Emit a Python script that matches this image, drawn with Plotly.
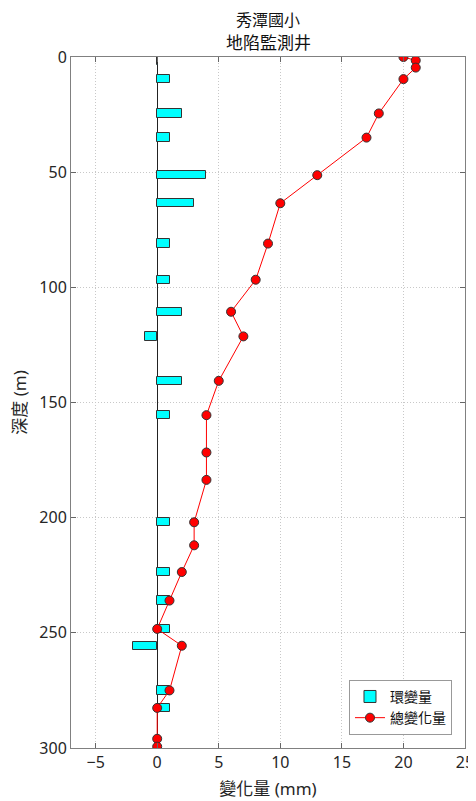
import plotly.graph_objects as go

# Data
depths = [0, 1.5, 4.6, 9.6, 24.5, 35, 51.3, 63.5, 81, 96.7, 110.6, 121.3, 140.6,
          155.5, 171.7, 183.6, 202, 212, 223.6, 236, 248.3, 255.6, 275, 282.6, 296, 299.4]
total_change = [20, 21, 21, 20, 18, 17, 13, 10, 9, 8, 6, 7, 5,
                4, 4, 4, 3, 3, 2, 1, 0, 2, 1, 0, 0, 0]
bar_depths = [1.5, 9.6, 24.5, 35, 51.3, 63.5, 81, 96.7, 110.6, 121.3, 140.6,
              155.5, 202, 223.6, 236, 248.3, 255.6, 275, 282.6]
ring_change = [0.1, 1, 2, 1, 4, 3, 1, 1, 2, -1, 2,
               1, 1, 1, 1, 1, -2, 1, 1]
x_ticks = [-5, 0, 5, 10, 15, 20, 25]
y_ticks = [0, 50, 100, 150, 200, 250, 300]
title_lines = ["秀潭國小", "地陷監測井"]

FONT = "Noto Sans, Noto Sans CJK TC, sans-serif"

fig = go.Figure()
fig.add_trace(go.Bar(
    x=ring_change, y=bar_depths, orientation="h", width=3.6,
    marker=dict(color="#00FFFF", line=dict(color="#333333", width=1)),
    name="環變量",
))
fig.add_trace(go.Scatter(
    x=total_change, y=depths, mode="lines+markers",
    line=dict(color="#FF0000", width=1),
    marker=dict(color="#FF0000", size=9, line=dict(color="#333333", width=1)),
    name="總變化量",
))

# page body has an 8px margin, so the figure is offset by 8px
fig.update_layout(
    width=468, height=793,
    margin=dict(l=63, r=11, t=49, b=53),
    paper_bgcolor="white", plot_bgcolor="white",
    font=dict(family=FONT, size=16, color="#262626"),
    showlegend=True,
    legend=dict(x=0.967, xanchor="right", y=0.019, yanchor="bottom",
                bgcolor="white", bordercolor="#999999", borderwidth=1,
                font=dict(size=14, color="#111111"), tracegroupgap=0),
    bargap=0,
)
fig.add_annotation(text=title_lines[0], xref="paper", yref="paper", x=0.5, y=1,
                   yshift=37, showarrow=False, xanchor="center", yanchor="middle",
                   font=dict(size=16, color="#111111"))
fig.add_annotation(text=title_lines[1], xref="paper", yref="paper", x=0.5, y=1,
                   yshift=15, showarrow=False, xanchor="center", yanchor="middle",
                   font=dict(size=17, color="#111111"))
fig.update_xaxes(
    range=[-7, 25], tickvals=x_ticks, ticks="inside", ticklen=5, tickcolor="#666666",
    showline=True, linecolor="#808080", linewidth=1, mirror="ticks",
    showgrid=True, gridcolor="#c8c8c8", griddash="1px,2px", gridwidth=1,
    zeroline=True, zerolinecolor="#222222", zerolinewidth=1,
    automargin=False,
    title=dict(text="變化量 (mm)", standoff=10, font=dict(size=17)),
)
fig.update_yaxes(
    range=[300, 0], tickvals=y_ticks, ticks="inside", ticklen=5, tickcolor="#666666",
    showline=True, linecolor="#808080", linewidth=1, mirror="ticks",
    showgrid=True, gridcolor="#c8c8c8", griddash="1px,2px", gridwidth=1,
    zeroline=False, automargin=False,
    title=dict(text="深度 (m)", standoff=14, font=dict(size=17)),
)

fig.write_html("out.html")
